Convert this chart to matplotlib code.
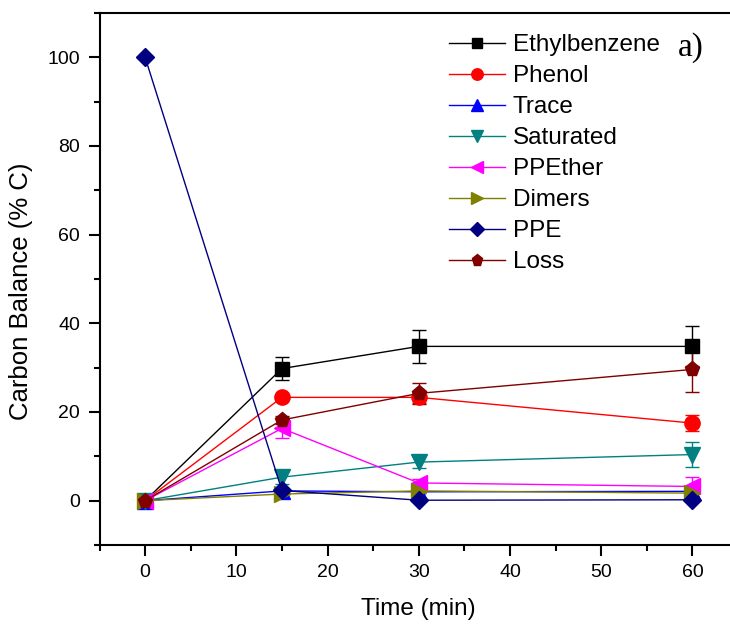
import matplotlib
matplotlib.use("Agg")
import matplotlib.pyplot as plt
from matplotlib.ticker import MultipleLocator

plt.rcParams['font.family'] = ['Liberation Sans', 'DejaVu Sans']

time = [0, 15, 30, 60]
names = ["Ethylbenzene", "Phenol", "Trace", "Saturated", "PPEther", "Dimers", "PPE", "Loss"]
ethylbenzene = [0, 29.8, 34.8, 34.8]
ethylbenzene_err = [0, 2.6, 3.7, 4.5]
phenol = [0, 23.3, 23.3, 17.5]
phenol_err = [0, 0.5, 1.2, 1.8]
trace = [0, 2.2, 2.0, 2.1]
trace_err = [0, 0.3, 0.3, 0.4]
saturated = [0, 5.3, 8.7, 10.4]
saturated_err = [0, 1.5, 1.3, 2.9]
ppether = [0, 16.3, 4.0, 3.2]
ppether_err = [0, 2.2, 1.0, 2.2]
dimers = [0, 1.5, 2.2, 1.7]
dimers_err = [0, 0.8, 0.5, 0.3]
ppe = [100, 2.3, 0.1, 0.2]
ppe_err = [0, 0, 0, 0]
loss = [0, 18.2, 24.2, 29.6]
loss_err = [0, 1.0, 2.4, 5.0]

series = [ethylbenzene, phenol, trace, saturated, ppether, dimers, ppe, loss]
errors = [ethylbenzene_err, phenol_err, trace_err, saturated_err, ppether_err, dimers_err, ppe_err, loss_err]
colors = ["#000000", "#ff0000", "#0000ff", "#008080", "#ff00ff", "#808000", "#000080", "#800000"]
markers = ["s", "o", "^", "v", "<", ">", "D", "p"]
msizes = [10, 11, 11, 11, 11, 11, 9, 11]

fig = plt.figure(figsize=(7.3, 6.25), dpi=100)
ax = fig.add_axes([99.5/730, 80/625, (738-99.5)/730, (545-13)/625])

for name, y, e, c, m, ms in zip(names, series, errors, colors, markers, msizes):
    ax.errorbar(time, y, yerr=e, color=c, marker=m, markersize=ms, lw=1.0,
                capsize=5, capthick=1.0, elinewidth=1.0, label=name)

ax.set_xlim(-5, 65)
ax.set_ylim(-10, 110)
ax.xaxis.set_major_locator(MultipleLocator(10))
ax.xaxis.set_minor_locator(MultipleLocator(5))
ax.yaxis.set_major_locator(MultipleLocator(20))
ax.yaxis.set_minor_locator(MultipleLocator(10))
ax.tick_params(which='major', direction='out', length=8, width=1.5, labelsize=14, pad=6)
ax.tick_params(which='minor', direction='out', length=4, width=1.5)
ax.tick_params(top=False, right=False)
for s in ax.spines.values():
    s.set_linewidth(1.5)

ax.set_xlabel("Time (min)", fontsize=17.5, labelpad=12)
ax.set_ylabel("Carbon Balance (% C)", fontsize=18.5)
ax.yaxis.set_label_coords((33 - 99.5)/638.5, 0.477)

handles, labels = ax.get_legend_handles_labels()
handles = [h[0] for h in handles]
leg = ax.legend(handles, labels, loc='upper left', frameon=False, fontsize=17.5,
                handlelength=2.3, handletextpad=0.33, labelspacing=0.37,
                borderaxespad=0, borderpad=0, markerscale=0.75)
leg.set_bbox_to_anchor((449/730, 1 - 34/625), transform=fig.transFigure)

fig.text(678/730, 1 - 48/625, "a)", fontsize=24, family=['Liberation Serif'], va='center', ha='left')

fig.savefig("out.png", dpi=100)
